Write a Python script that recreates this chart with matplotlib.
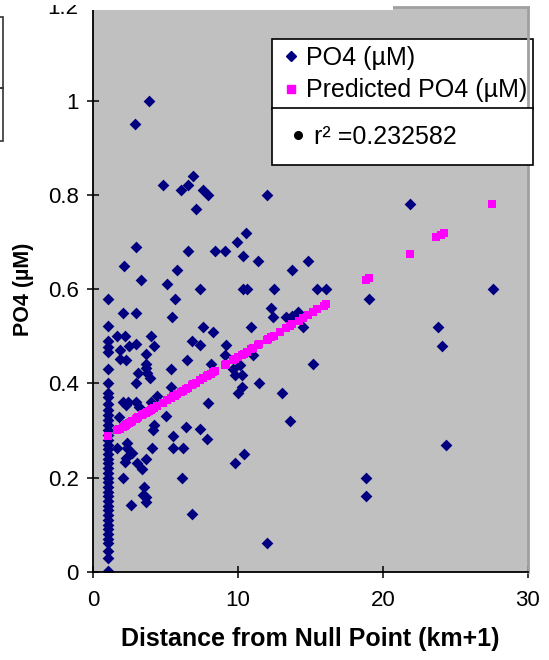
import numpy as np
import matplotlib.pyplot as plt
from matplotlib.patches import Rectangle
from matplotlib.lines import Line2D

plt.rcParams['font.family'] = ['Liberation Sans', 'DejaVu Sans']

# observed PO4 at the null point column (distance = 1)
col_y = [0.579, 0.521, 0.489, 0.478, 0.467, 0.430, 0.400, 0.379, 0.370,
         0.355, 0.343, 0.333, 0.322, 0.311, 0.300, 0.290, 0.280, 0.270,
         0.260, 0.250, 0.240, 0.230, 0.220, 0.210, 0.200, 0.190, 0.180,
         0.170, 0.160, 0.150, 0.140, 0.130, 0.120, 0.110, 0.100, 0.090,
         0.080, 0.070, 0.060, 0.043, 0.029, 0.002]

# observed PO4 elsewhere
obs_x = [3.87, 2.88, 4.79, 6.91, 6.52, 6.06, 7.60, 7.94, 7.07, 12.0,
         2.97, 2.14, 3.31, 5.07, 5.80, 5.62, 6.52, 7.37, 8.43, 9.07,
         9.90, 10.55, 10.36, 11.37, 10.36, 10.60, 12.46, 13.74, 14.85, 2.05,
         2.97, 5.44, 12.30, 12.39, 13.29, 13.72, 14.16, 14.48, 21.9, 15.47,
         16.05, 19.04, 27.6, 23.8, 24.08, 15.2, 13.0, 13.58, 24.36, 18.85,
         18.85, 12.0, 9.79, 10.43, 1.66, 2.17, 4.00, 1.82, 2.49, 2.97,
         4.19, 3.62, 1.84, 2.24, 3.62, 3.62, 3.11, 3.73, 3.92, 5.34,
         6.45, 6.82, 2.93, 5.34, 2.07, 2.24, 2.93, 3.16, 3.96, 4.42,
         1.77, 4.19, 6.38, 1.66, 2.31, 2.31, 2.69, 2.17, 2.28, 3.0,
         3.62, 3.34, 2.05, 4.08, 4.14, 5.52, 5.52, 6.22, 6.15, 3.5,
         3.45, 3.62, 3.62, 2.58, 6.84, 7.6, 8.24, 10.89, 7.37, 9.16,
         9.1, 8.1, 11.05, 9.68, 10.13, 9.78, 10.25, 11.46, 10.25, 10.01,
         7.94, 7.37, 7.87, 2.42, 5.0]
obs_y = [1.00, 0.95, 0.82, 0.84, 0.82, 0.81, 0.81, 0.80, 0.77, 0.80,
         0.69, 0.65, 0.62, 0.61, 0.64, 0.58, 0.68, 0.60, 0.68, 0.68,
         0.70, 0.72, 0.67, 0.66, 0.60, 0.60, 0.60, 0.64, 0.66, 0.55,
         0.55, 0.54, 0.56, 0.54, 0.54, 0.543, 0.552, 0.52, 0.78, 0.60,
         0.60, 0.58, 0.60, 0.52, 0.48, 0.44, 0.38, 0.32, 0.27, 0.20,
         0.16, 0.06, 0.231, 0.25, 0.50, 0.50, 0.50, 0.47, 0.48, 0.483,
         0.48, 0.462, 0.451, 0.449, 0.442, 0.432, 0.421, 0.421, 0.411, 0.430,
         0.449, 0.490, 0.40, 0.393, 0.361, 0.354, 0.361, 0.350, 0.361, 0.372,
         0.329, 0.311, 0.308, 0.262, 0.273, 0.262, 0.251, 0.232, 0.241, 0.231,
         0.239, 0.219, 0.200, 0.262, 0.301, 0.289, 0.262, 0.262, 0.200, 0.180,
         0.163, 0.159, 0.149, 0.142, 0.122, 0.52, 0.508, 0.52, 0.481, 0.481,
         0.461, 0.442, 0.46, 0.43, 0.439, 0.418, 0.418, 0.40, 0.393, 0.38,
         0.359, 0.304, 0.281, 0.361, 0.33]

# predicted PO4 (regression line values)
pred_x = [1.0, 1.66, 1.77, 1.84, 2.05, 2.17, 2.24, 2.31, 2.49, 2.58,
          2.69, 2.93, 3.0, 3.11, 3.34, 3.45, 3.62, 3.73, 3.87, 3.96,
          4.08, 4.19, 4.42, 4.79, 5.07, 5.34, 5.52, 5.62, 5.80, 6.06,
          6.17, 6.38, 6.52, 6.84, 6.91, 7.07, 7.37, 7.6, 7.87, 7.94,
          8.1, 8.24, 8.43, 9.07, 9.16, 9.68, 9.79, 10.01, 10.25, 10.43,
          10.6, 10.89, 11.05, 11.37, 11.46, 11.97, 12.06, 12.3, 12.46, 12.9,
          13.29, 13.58, 13.74, 14.2, 14.5, 14.85, 15.2, 15.47, 15.93, 16.05,
          18.85, 19.04, 21.85, 23.7, 24.0, 24.2, 27.5]
pred_y = [0.289, 0.301, 0.303, 0.304, 0.308, 0.310, 0.312, 0.313, 0.316, 0.318,
          0.320, 0.324, 0.326, 0.328, 0.332, 0.334, 0.337, 0.339, 0.342, 0.343,
          0.346, 0.348, 0.352, 0.359, 0.364, 0.369, 0.372, 0.374, 0.378, 0.382,
          0.384, 0.388, 0.391, 0.397, 0.398, 0.401, 0.407, 0.411, 0.416, 0.417,
          0.420, 0.423, 0.426, 0.438, 0.440, 0.450, 0.452, 0.456, 0.460, 0.463,
          0.467, 0.472, 0.475, 0.481, 0.483, 0.492, 0.494, 0.498, 0.501, 0.509,
          0.517, 0.522, 0.525, 0.533, 0.539, 0.545, 0.552, 0.557, 0.565, 0.568,
          0.620, 0.623, 0.675, 0.710, 0.715, 0.719, 0.780]

r2_label = 'r² =0.232582'

fig = plt.figure(figsize=(5.49, 6.6), dpi=100)
ax = fig.add_axes([93.3/549, 1 - 571.7/660, (527.7 - 93.3)/549, (571.7 - 6.5)/660])
ax.set_facecolor('#c0c0c0')

ax.scatter([1.0]*len(col_y), col_y, marker='D', s=36, color='#000080', linewidths=0, zorder=3)
ax.scatter(obs_x, obs_y, marker='D', s=36, color='#000080', linewidths=0, zorder=3)
ax.scatter(pred_x, pred_y, marker='s', s=40, color='#ff00ff', linewidths=0, zorder=4)

ax.set_xlim(0, 30)
ax.set_ylim(0, 1.2)
ax.set_xticks([0, 10, 20, 30])
ax.set_yticks([0, 0.2, 0.4, 0.6, 0.8, 1, 1.2])
ax.set_yticklabels(['0', '0.2', '0.4', '0.6', '0.8', '1', '1.2'])
ax.tick_params(direction='inout', length=9, width=1.1, labelsize=16, color='black')
ax.tick_params(axis='y', pad=6)
ax.tick_params(axis='x', pad=9)
ax.spines['left'].set_linewidth(1.3)
ax.spines['bottom'].set_linewidth(1.3)
ax.spines['right'].set_color('#a0a0a0')
ax.spines['right'].set_linewidth(2)
ax.spines['top'].set_color('#a0a0a0')
ax.spines['top'].set_linewidth(2)
for s in ax.spines.values():
    s.set_zorder(5)

ax.set_xlabel('Distance from Null Point (km+1)', fontsize=18, fontweight='bold', labelpad=11)
ax.set_ylabel('PO4 (µM)', fontsize=15.5, fontweight='bold', labelpad=10)

# legends
h1 = [Line2D([], [], ls='none', marker='D', ms=5, color='#000080'),
      Line2D([], [], ls='none', marker='s', ms=6, color='#ff00ff')]
leg1 = ax.legend(h1, ['PO4 (µM)', 'Predicted PO4 (µM)'], loc='upper left',
                 bbox_to_anchor=(272/549, 1 - 39/660, (533 - 272)/549, 0),
                 bbox_transform=fig.transFigure, mode='expand', fontsize=18,
                 frameon=True, fancybox=False, framealpha=1, edgecolor='black',
                 borderpad=0.26, labelspacing=0.36, handlelength=1.0,
                 handletextpad=0.1, borderaxespad=0)
leg1.get_frame().set_linewidth(1.2)
ax.add_artist(leg1)
h2 = [Line2D([], [], ls='none', marker='o', ms=5.5, color='black')]
leg2 = ax.legend(h2, [r2_label], loc='upper left',
                 bbox_to_anchor=(272/549, 1 - 108/660, (533 - 272)/549, 0),
                 bbox_transform=fig.transFigure, mode='expand', fontsize=18,
                 frameon=True, fancybox=False, framealpha=1, edgecolor='black',
                 borderpad=0.66, handlelength=0.76, handletextpad=0.26,
                 borderaxespad=0)
leg2.get_frame().set_linewidth(1.2)

# white strip over the top edge and leftover boxes at the left border
fig.patches.append(Rectangle((85/549, 1 - 9.5/660), (393 - 85)/549, 9.5/660,
                             transform=fig.transFigure, facecolor='white',
                             edgecolor='none', zorder=10))
fig.patches.append(Rectangle((40/549, 1 - 5/660), 45/549, 5/660,
                             transform=fig.transFigure, facecolor='white',
                             edgecolor='none', zorder=10))
fig.patches.append(Rectangle((-0.01, 1 - 88/660), 0.01 + 3/549, (88 - 17)/660,
                             transform=fig.transFigure, facecolor='none',
                             edgecolor='#333333', lw=1.2, zorder=10))
fig.patches.append(Rectangle((-0.01, 1 - 141/660), 0.01 + 3/549, (141 - 88)/660,
                             transform=fig.transFigure, facecolor='none',
                             edgecolor='#333333', lw=1.2, zorder=10))

fig.savefig('out.png', dpi=100)
